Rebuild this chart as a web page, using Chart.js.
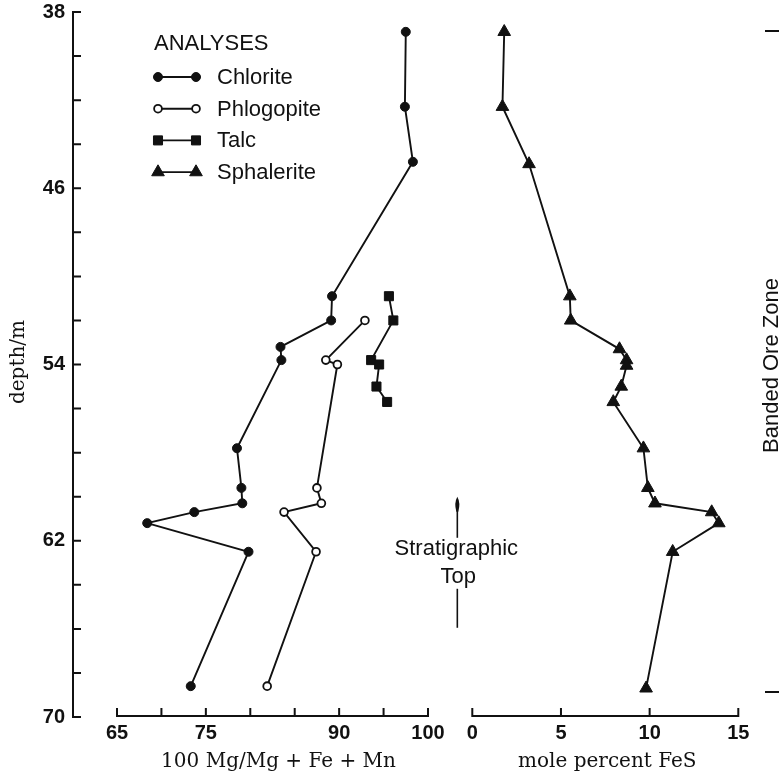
<!DOCTYPE html>
<html><head><meta charset="utf-8">
<script src="https://cdn.jsdelivr.net/npm/chart.js@4.4.1/dist/chart.umd.min.js"></script>
<style>html,body{margin:0;padding:0;background:#fff}#wrap{width:779px;height:775px}</style>
</head><body><div id="wrap"><canvas id="c" width="779" height="775"></canvas></div>
<script>
// ---- data ----
const chloriteDepth = [38.9, 42.3, 44.8, 50.9, 52.0, 53.2, 53.8, 57.8, 59.6, 60.3, 60.7, 61.2, 62.5, 68.6];
const chloriteMg    = [97.5, 97.4, 98.3, 89.2, 89.1, 83.4, 83.5, 78.5, 79.0, 79.1, 73.7, 68.4, 79.8, 73.3];
const phlogopiteDepth = [52.0, 53.8, 54.0, 59.6, 60.3, 60.7, 62.5, 68.6];
const phlogopiteMg    = [92.9, 88.5, 89.8, 87.5, 88.0, 83.8, 87.4, 81.9];
const talcDepth = [50.9, 52.0, 53.8, 54.0, 55.0, 55.7];
const talcMg    = [95.6, 96.1, 93.6, 94.5, 94.2, 95.4];
const sphaleriteDepth = [38.9, 42.3, 44.9, 50.9, 52.0, 53.3, 53.8, 54.05, 55.0, 55.7, 57.8, 59.6, 60.3, 60.7, 61.2, 62.5, 68.7];
const sphaleriteFeS   = [1.8, 1.7, 3.2, 5.5, 5.55, 8.3, 8.7, 8.7, 8.4, 7.95, 9.65, 9.9, 10.3, 13.5, 13.9, 11.3, 9.8];
const seriesNames = ['Chlorite', 'Phlogopite', 'Talc', 'Sphalerite'];
const depthTicks = [38,40,42,44,46,48,50,52,54,56,58,60,62,64,66,68,70];
const depthLabels = [38, 46, 54, 62, 70];
const mgTicks = [65, 70, 75, 80, 85, 90, 95, 100];
const mgLabels = [65, 75, 90, 100];
const fesTicks = [0, 5, 10, 15];
const fesLabels = [0, 5, 10, 15];
const bandedZone = [38.86, 68.87];
const stratTopAt = [103.3, 63.0];

// ---- layout ----
const L = { left: 73, right: 760, top: 12, bottom: 717 };
function rangeFor(v0, v1, p0, p1) {
  const a = (p1 - p0) / (v1 - v0);
  return { min: v0 - (p0 - L.left) / a, max: v0 + (L.right - p0) / a };
}
const mgRange = rangeFor(65, 100, 117, 428);
const fesRange = rangeFor(0, 15, 472.3, 738.3);
const INK = '#111';
const zip = (xs, ys) => xs.map((v, i) => ({ x: v, y: ys[i] }));

function ds(label, data, axis, style, radius, bg, bw) {
  return { label, data: zip(data[0], data[1]), xAxisID: axis, yAxisID: 'y',
    borderColor: INK, borderWidth: 1.9, tension: 0, fill: false,
    pointStyle: style, pointRadius: radius, pointHoverRadius: radius,
    pointBackgroundColor: bg, pointBorderColor: INK, pointBorderWidth: bw };
}

const datasets = [
  ds(seriesNames[0], [chloriteMg, chloriteDepth], 'x', 'circle', 4.5, INK, 1),
  ds(seriesNames[1], [phlogopiteMg, phlogopiteDepth], 'x', 'circle', 3.9, '#fff', 1.8),
  ds(seriesNames[2], [talcMg, talcDepth], 'x', 'rect', 6.4, INK, 1),
  ds(seriesNames[3], [sphaleriteFeS, sphaleriteDepth], 'x2', 'triangle', 7.3, INK, 1)
];

const tickFont = { family: 'Liberation Sans', size: 20, weight: 'bold' };

function drawMarker(ctx, d, x, y) {
  const r = d.pointRadius;
  ctx.beginPath();
  if (d.pointStyle === 'circle') ctx.arc(x, y, r, 0, Math.PI * 2);
  else if (d.pointStyle === 'rect') { const s = r * Math.SQRT1_2; ctx.rect(x - s, y - s, 2 * s, 2 * s); }
  else { for (let k = 0; k < 3; k++) { const a = -Math.PI / 2 + k * 2 * Math.PI / 3; const px = x + Math.cos(a) * r, py = y + Math.sin(a) * r; k ? ctx.lineTo(px, py) : ctx.moveTo(px, py); } ctx.closePath(); }
  ctx.fillStyle = d.pointBackgroundColor; ctx.fill();
  ctx.lineWidth = d.pointBorderWidth; ctx.strokeStyle = d.pointBorderColor; ctx.stroke();
}

const shareAxisRow = {
  id: 'shareAxisRow',
  afterLayout(chart) {
    const a = chart.scales.x, b = chart.scales.x2;
    b.top = a.top; b.bottom = a.bottom; b.height = a.height;
  }
};

const decor = {
  id: 'decor',
  afterDraw(chart) {
    const ctx = chart.ctx, ca = chart.chartArea;
    const { x, x2, y } = chart.scales;
    ctx.save();
    ctx.strokeStyle = INK; ctx.fillStyle = INK; ctx.lineWidth = 2;
    // y axis with inward ticks
    const yTop = y.getPixelForValue(38), yBot = y.getPixelForValue(70);
    ctx.beginPath();
    ctx.moveTo(ca.left, yTop - 1); ctx.lineTo(ca.left, yBot + 1);
    depthTicks.forEach(v => { const p = y.getPixelForValue(v); ctx.moveTo(ca.left, p); ctx.lineTo(ca.left + 8, p); });
    ctx.stroke();
    // x axes (partial lines, upward ticks)
    const base = yBot - 1;
    [[x, mgTicks], [x2, fesTicks]].forEach(([s, t]) => {
      const a = s.getPixelForValue(t[0]), b = s.getPixelForValue(t[t.length - 1]);
      ctx.beginPath();
      ctx.moveTo(a - 1, base); ctx.lineTo(b + 1, base);
      t.forEach(v => { const p = s.getPixelForValue(v); ctx.moveTo(p, base); ctx.lineTo(p, base - 8); });
      ctx.stroke();
    });
    // axis titles
    ctx.font = '20px "DejaVu Serif"';
    ctx.textAlign = 'center'; ctx.textBaseline = 'middle';
    ctx.fillText('100 Mg/Mg + Fe + Mn', (x.getPixelForValue(65) + x.getPixelForValue(100)) / 2 + 6, 762);
    ctx.fillText('mole percent FeS', (x2.getPixelForValue(0) + x2.getPixelForValue(15)) / 2 + 2, 762);
    ctx.save();
    ctx.translate(19, 362); ctx.rotate(-Math.PI / 2);
    ctx.fillText('depth/m', 0, 0);
    ctx.restore();
    // legend
    ctx.font = '22px "Liberation Sans"';
    ctx.textAlign = 'left'; ctx.textBaseline = 'middle';
    ctx.fillStyle = INK;
    ctx.fillText('ANALYSES', 154, 44);
    chart.data.datasets.forEach((d, i) => {
      const ly = 77 + i * 31.7;
      ctx.beginPath(); ctx.lineWidth = 1.9; ctx.strokeStyle = INK;
      ctx.moveTo(158, ly); ctx.lineTo(196, ly); ctx.stroke();
      drawMarker(ctx, d, 158, ly); drawMarker(ctx, d, 196, ly);
      ctx.fillStyle = INK;
      ctx.fillText(d.label, 217, ly + 1);
    });
    // Stratigraphic Top annotation
    const sx = x.getPixelForValue(stratTopAt[0]), sy = y.getPixelForValue(stratTopAt[1]);
    ctx.lineWidth = 1.6; ctx.strokeStyle = INK; ctx.fillStyle = INK;
    ctx.beginPath(); ctx.moveTo(sx, sy - 58); ctx.lineTo(sx, sy - 25); ctx.stroke();
    ctx.beginPath();
    ctx.moveTo(sx, sy - 66);
    ctx.quadraticCurveTo(sx + 3.4, sy - 60, sx + 1, sy - 51);
    ctx.lineTo(sx - 1, sy - 51);
    ctx.quadraticCurveTo(sx - 3.4, sy - 60, sx, sy - 66);
    ctx.fill();
    ctx.beginPath(); ctx.moveTo(sx, sy + 26); ctx.lineTo(sx, sy + 65); ctx.stroke();
    ctx.textAlign = 'center';
    ctx.fillText('Stratigraphic', sx - 1, sy - 14);
    ctx.fillText('Top', sx + 1, sy + 14);
    // Banded Ore Zone bracket
    ctx.lineWidth = 2;
    ctx.beginPath();
    bandedZone.forEach(v => { const p = y.getPixelForValue(v); ctx.moveTo(765, p); ctx.lineTo(782, p); });
    ctx.stroke();
    const mid = (y.getPixelForValue(bandedZone[0]) + y.getPixelForValue(bandedZone[1])) / 2;
    ctx.save();
    ctx.translate(778, mid + 4); ctx.rotate(-Math.PI / 2);
    ctx.textAlign = 'center'; ctx.textBaseline = 'alphabetic';
    ctx.fillText('Banded Ore Zone', 0, 0);
    ctx.restore();
    ctx.restore();
  }
};

new Chart(document.getElementById('c'), {
  type: 'line',
  data: { datasets },
  options: {
    responsive: false, animation: false, events: [],
    layout: { padding: { top: L.top, right: 779 - L.right, left: 0, bottom: 0 } },
    plugins: { legend: { display: false }, tooltip: { enabled: false } },
    scales: {
      y: { type: 'linear', position: 'left', reverse: true, min: 38, max: 70,
        afterFit: s => { s.width = L.left; s.paddingTop = 0; s.paddingBottom = 0; },
        afterBuildTicks: s => { s.ticks = depthTicks.map(v => ({ value: v })); },
        ticks: { autoSkip: false, padding: 8, font: tickFont, color: INK,
          callback: v => depthLabels.includes(v) ? String(v) : '' },
        grid: { display: false, drawTicks: false }, border: { display: false } },
      x: { type: 'linear', position: 'bottom', weight: 0, min: mgRange.min, max: mgRange.max,
        afterFit: s => { s.height = 775 - L.bottom; s.paddingLeft = 0; s.paddingRight = 0; },
        afterBuildTicks: s => { s.ticks = mgTicks.map(v => ({ value: v })); },
        ticks: { autoSkip: false, maxRotation: 0, padding: 4, font: tickFont, color: INK,
          callback: v => mgLabels.includes(v) ? String(v) : '' },
        grid: { display: false, drawTicks: false }, border: { display: false } },
      x2: { type: 'linear', position: 'bottom', weight: 1, min: fesRange.min, max: fesRange.max,
        afterFit: s => { s.height = 0; s.paddingLeft = 0; s.paddingRight = 0; },
        afterBuildTicks: s => { s.ticks = fesTicks.map(v => ({ value: v })); },
        ticks: { autoSkip: false, maxRotation: 0, padding: 4, font: tickFont, color: INK,
          callback: v => fesLabels.includes(v) ? String(v) : '' },
        grid: { display: false, drawTicks: false }, border: { display: false } }
    }
  },
  plugins: [shareAxisRow, decor]
});
</script></body></html>
